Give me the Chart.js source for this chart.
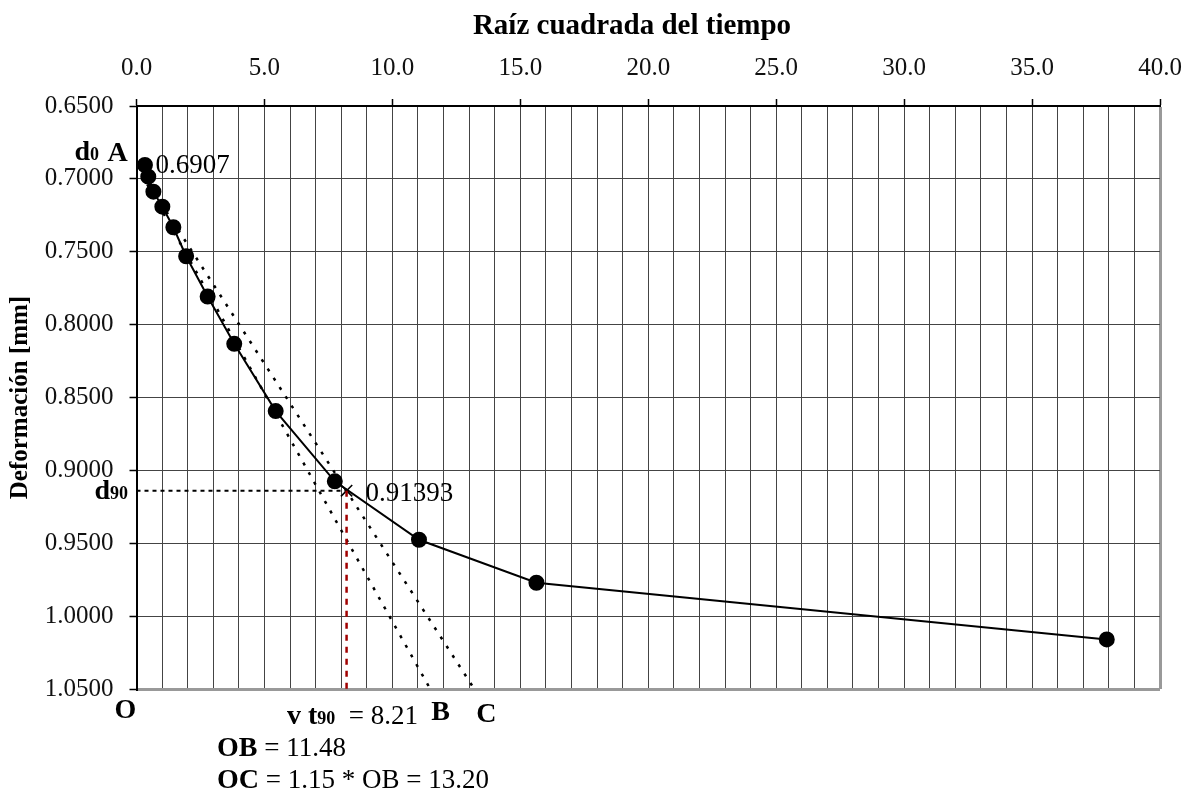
<!DOCTYPE html>
<html>
<head>
<meta charset="utf-8">
<title>Raíz cuadrada del tiempo</title>
<script src="https://cdn.jsdelivr.net/npm/chart.js@4.4.1/dist/chart.umd.min.js"></script>
<style>
  html, body { margin: 0; padding: 0; background: #fff; }
  canvas { display: block; }
</style>
</head>
<body>
<canvas id="curve" width="1190" height="795"></canvas>
<script>
// lecturas del ensayo: raiz del tiempo vs deformacion
var sqrtTime = [0.33, 0.46, 0.66, 1.01, 1.44, 1.94, 2.78, 3.82, 5.44, 7.75, 11.04, 15.63, 37.92];
var deformation = [0.6905, 0.6985, 0.7088, 0.7191, 0.7332, 0.7531, 0.7807, 0.8132, 0.8593, 0.9075, 0.9476, 0.9771, 1.0160];

// construccion de Taylor
var d0 = 0.6907;
var d90 = 0.91393;
var t90 = 8.21;
var OB = 11.48;
var OC = 13.20;

// ejes
var xLabelValues = [0, 5, 10, 15, 20, 25, 30, 35, 40];
var yLabelValues = [0.65, 0.70, 0.75, 0.80, 0.85, 0.90, 0.95, 1.00, 1.05];

var serif = '"Liberation Serif", "Times New Roman", serif';
var xMin = xLabelValues[0], xMax = xLabelValues[xLabelValues.length - 1];
var yMin = yLabelValues[0], yMax = yLabelValues[yLabelValues.length - 1];

function near(a, b) { return Math.abs(a - b) < 1e-6; }

var points = sqrtTime.map(function (t, i) { return { x: t, y: deformation[i] }; });

// textos de la construccion y titulo superior
var notes = {
    id: "notes",
    afterDatasetsDraw: function (chart) {
        var c = chart.ctx;
        var sx = chart.scales.x, sy = chart.scales.y;
        var B = "bold 28px " + serif, S = "bold 18px " + serif, N = "27px " + serif;
        c.save();
        c.fillStyle = "#000";

        c.font = "bold 29px " + serif;
        c.textAlign = "center";
        c.textBaseline = "middle";
        c.fillText("Raíz cuadrada del tiempo", 632, 27);

        c.textAlign = "left";
        c.textBaseline = "alphabetic";
        function put(parts, px, py) {
            parts.forEach(function (p) {
                c.font = p[1];
                c.fillText(p[0], px, py);
                px += c.measureText(p[0]).width;
            });
        }
        var ax = sx.getPixelForValue(0), ay = sy.getPixelForValue(d0);
        put([["d", B], ["0", S]], ax - 62, ay - 5);
        put([["A", B]], ax - 29, ay - 4);
        put([["0.6907", N]], ax + 19, ay + 8);

        var px = sx.getPixelForValue(t90), py = sy.getPixelForValue(d90);
        put([["d", B], ["90", S]], ax - 42, py + 8);
        put([["0.91393", N]], px + 19, py + 10);

        var bottom = chart.chartArea.bottom;
        put([["O", B]], ax - 22, bottom + 29);
        put([["B", B]], sx.getPixelForValue(OB) + 1, bottom + 31);
        put([["C", B]], sx.getPixelForValue(OC) + 2, bottom + 33);
        put([["v t", B], ["90", S], ["  = 8.21", N]], 287, bottom + 35);
        put([["OB", B], [" = 11.48", N]], 217, bottom + 67);
        put([["OC", B], [" = 1.15 * OB = 13.20", N]], 217, bottom + 99);
        c.restore();
    },
};

new Chart(document.getElementById("curve").getContext("2d"), {
    type: "scatter",
    data: {
        datasets: [
            {
                // vertical t90
                data: [{ x: t90, y: d90 }, { x: t90, y: yMax }],
                showLine: true,
                borderColor: "#a00000",
                borderWidth: 2.5,
                borderDash: [6, 6],
                pointRadius: 0,
            },
            {
                // horizontal d90
                data: [{ x: 0, y: d90 }, { x: t90, y: d90 }],
                showLine: true,
                borderColor: "#000",
                borderWidth: 2,
                borderDash: [4, 4],
                pointRadius: 0,
            },
            {
                // recta A-B
                data: [{ x: 0, y: d0 }, { x: OB, y: yMax }],
                showLine: true,
                borderColor: "#000",
                borderWidth: 2.5,
                borderDash: [3, 8],
                pointRadius: 0,
            },
            {
                // recta A-C
                data: [{ x: 0, y: d0 }, { x: OC, y: yMax }],
                showLine: true,
                borderColor: "#000",
                borderWidth: 2.5,
                borderDash: [3, 8],
                pointRadius: 0,
            },
            {
                // curva medida
                data: points,
                showLine: true,
                borderColor: "#000",
                borderWidth: 2,
                pointRadius: 7,
                pointBackgroundColor: "#000",
                pointBorderColor: "#000",
            },
            {
                // marcas A y t90
                data: [{ x: 0, y: d0 }, { x: t90, y: d90 }],
                showLine: false,
                pointStyle: "crossRot",
                pointRadius: 8,
                pointBorderColor: "#000",
                pointBorderWidth: 1.6,
            },
        ],
    },
    options: {
        responsive: false,
        animation: false,
        layout: { padding: { left: 0, top: 0, right: 30, bottom: 106 } },
        plugins: { legend: { display: false }, tooltip: { enabled: false } },
        scales: {
            x: {
                type: "linear",
                position: "top",
                min: xMin,
                max: xMax,
                afterFit: function (scale) {
                    scale.height = 106;
                    scale.paddingLeft = 0;
                    scale.paddingRight = 0;
                },
                border: { display: true, color: "#000", width: 2 },
                grid: {
                    color: function (ctx) { return near(ctx.tick.value, xMax) ? "#999" : "#444"; },
                    lineWidth: function (ctx) { return near(ctx.tick.value, xMax) ? 3 : 1; },
                    tickColor: function (ctx) {
                        return xLabelValues.indexOf(ctx.tick.value) >= 0 ? "#000" : "rgba(0,0,0,0)";
                    },
                    tickLength: 7,
                    tickWidth: 1.5,
                },
                ticks: {
                    stepSize: 1,
                    maxTicksLimit: 100,
                    autoSkip: false,
                    maxRotation: 0,
                    padding: 16,
                    color: "#111",
                    font: { family: serif, size: 25 },
                    callback: function (v) {
                        return xLabelValues.indexOf(v) >= 0 ? v.toFixed(1) : "";
                    },
                },
            },
            y: {
                type: "linear",
                reverse: true,
                min: yMin,
                max: yMax,
                afterFit: function (scale) { scale.width = 136.5; },
                border: { display: true, color: "#000", width: 2 },
                grid: {
                    color: function (ctx) { return near(ctx.tick.value, yMax) ? "#999" : "#444"; },
                    lineWidth: function (ctx) { return near(ctx.tick.value, yMax) ? 3 : 1; },
                    tickColor: "#000",
                    tickLength: 7,
                    tickWidth: 1.5,
                },
                ticks: {
                    stepSize: 0.05,
                    padding: 16,
                    color: "#111",
                    font: { family: serif, size: 25 },
                    callback: function (v) { return v.toFixed(4); },
                },
                title: {
                    display: true,
                    text: "Deformación [mm]",
                    color: "#000",
                    font: { family: serif, size: 25, weight: "bold" },
                    padding: { top: 6, bottom: 0 },
                },
            },
        },
    },
    plugins: [notes],
});
</script>
</body>
</html>
